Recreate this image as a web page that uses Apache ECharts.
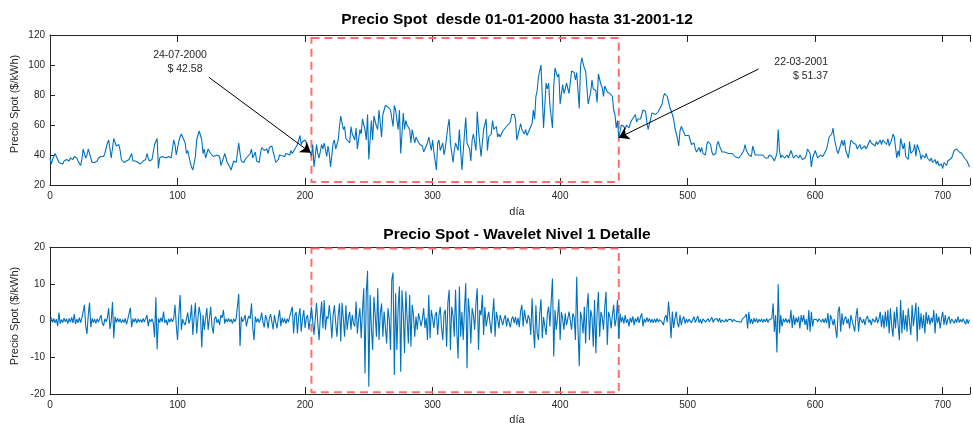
<!DOCTYPE html>
<html><head><meta charset="utf-8">
<script src="https://cdn.jsdelivr.net/npm/echarts@6/dist/echarts.min.js"></script>
<style>html,body{margin:0;padding:0;background:#fff}#c{width:973px;height:426px}</style>
</head><body><div id="c"></div>
<script>
// ---- data ----
const titulo1 = 'Precio Spot  desde 01-01-2000 hasta 31-2001-12';
const titulo2 = 'Precio Spot - Wavelet Nivel 1 Detalle';
const ejeX = 'día';
const ejeY = 'Precio Spot ($/kWh)';
const xTicks = [0, 100, 200, 300, 400, 500, 600, 700];
const zonaDias = [205, 446];
const zonaPrecio = [22, 118];
const zonaDetalle = [-19.5, 19.7];
const nota1 = ['24-07-2000', '$ 42.58'];
const nota2 = ['22-03-2001', '$ 51.37'];

// [dia, precio]
const precioSpot = [
[0,38],[1,34],[2,37],[4,41],[5,40],[7,35],[8,34],[10,34],[11,36],[13,37],
[15,36],[16,38],[18,37],[19,39],[21,38],[22,36],[24,33],[25,37],[26,44],[27,45],
[28,38],[29,40],[30,44],[31,43],[33,35],[35,35],[37,36],[38,38],[40,39],[42,39],
[43,41],[45,48],[46,50],[47,51],[48,38],[50,51],[51,51],[52,46],[54,47],[55,43],
[56,37],[58,35],[60,36],[62,37],[64,41],[65,36],[67,36],[69,35],[71,34],[73,36],
[75,37],[76,41],[77,38],[78,36],[80,37],[81,38],[82,47],[84,51],[85,31],[86,38],
[88,39],[89,38],[91,38],[93,39],[95,38],[97,50],[98,47],[99,40],[101,49],[102,52],
[103,54],[104,53],[106,48],[107,41],[108,43],[110,35],[111,32],[112,30],[114,39],[115,50],
[116,53],[117,56],[119,50],[120,41],[121,44],[122,38],[124,44],[125,43],[126,41],[128,39],
[129,38],[131,40],[133,39],[134,33],[136,38],[137,41],[139,35],[141,32],[142,30],[144,36],
[145,37],[146,35],[148,48],[149,41],[150,36],[152,35],[153,37],[154,36],[157,41],[158,44],
[159,38],[161,42],[162,36],[164,35],[165,41],[166,45],[167,46],[168,43],[170,44],[171,41],
[172,45],[174,46],[175,42],[176,39],[177,35],[179,37],[180,40],
[181,40],[184,39],[185,41],[188,40],[189,43],[190,41],[192,44],[193,43],[194,47],[196,53],
[197,47],[198,49],[200,50],[201,48],[202,44],[204,42],[205,39],[206,47],[207,32],[209,47],
[210,41],[211,38],[213,47],[214,44],[215,48],[217,39],[218,46],[219,41],[220,32],[222,48],
[223,50],[224,44],[226,50],[227,59],[228,66],[230,57],[231,59],[232,51],[233,52],[235,48],
[236,59],[237,54],[239,50],[240,58],[241,44],[243,57],[244,54],[245,64],[247,57],[248,50],
[249,67],[250,37],[252,63],[253,50],[254,66],[256,59],[257,57],[258,70],[260,52],[261,67],
[262,70],[263,73],[265,72],[266,73],[267,70],[269,59],[270,73],[271,70],[273,57],[274,70],
[275,41],[277,68],[278,57],[279,63],[280,60],[282,57],[283,48],[284,57],[286,48],[287,52],
[288,50],[290,47],[291,48],[292,46],[293,42],[295,46],[296,48],[297,52],[299,43],[300,50],
[301,42],[303,30],[304,48],[305,50],[306,43],[308,48],[309,40],[310,45],[312,59],[313,64],
[314,48],[316,35],[317,43],[318,48],[320,43],[321,57],[322,43],[323,30],[325,54],[326,65],
[327,48],[329,44],[330,36],[331,50],[332,54],[334,43],[335,69],[336,57],[338,39],[339,48],
[340,57],[342,64],[343,43],[344,52],[346,54],[347,63],[348,57],[350,59],[351,52],[352,54],
[353,52],[355,56],[356,57],[357,58],[359,60],[360,59],[361,62],[362,67],[364,67],
[365,64],[366,50],[368,57],[369,61],[370,57],[372,54],[373,57],[374,53],[376,57],[377,58],
[378,61],[379,70],[380,64],[381,79],[382,83],[383,92],[385,100],[386,79],[387,58],[389,88],
[390,84],[391,88],[392,73],[394,58],[395,86],[396,98],[398,92],[399,94],[400,74],[402,87],
[403,81],[404,84],[405,88],[407,81],[408,80],[409,96],[411,95],[412,90],[413,95],[415,71],
[416,99],[417,105],[418,101],[419,98],[420,96],[421,85],[422,74],[424,82],[425,90],[426,84],
[428,83],[429,75],[430,94],[432,87],[433,85],[434,79],[435,86],[437,82],[438,82],[439,81],
[441,79],[442,70],[443,67],[444,58],[445,63],[446,51.4],[448,60],[450,59],[451,57],[452,60],
[454,58],[455,61],[456,63],[457,63],[459,67],[460,62],[461,64],[463,64],[464,67],[465,70],
[467,69],[468,62],[469,57],[471,64],[472,68],[475,67],[477,69],[480,74],[481,79],[482,81],
[484,79],[485,78],[486,72],[488,67],[489,64],[490,58],[492,51],[493,46],[494,56],[495,59],
[497,55],[498,53],[499,52],[501,53],[502,50],[503,47],[505,48],[506,44],[507,42],[509,45],
[510,42],[511,45],[512,41],[514,40],[515,47],[516,49],[518,47],[519,42],[520,40],[522,41],
[523,47],[524,49],[525,46],[527,42],[529,42],[532,41],[535,41],[537,39],[540,38],[542,40],
[544,43],[545,47],[546,43],[548,40],
[550,39],[551,46],[553,40],[554,41],[555,40],[557,40],[558,39],[559,40],[561,38],[562,39],
[563,38],[564,40],[566,39],[567,38],[568,36],[570,41],[571,57],[572,43],[573,38],[574,40],
[575,39],[576,38],[578,40],[579,38],[580,39],[581,43],[583,38],[584,39],[585,40],[587,38],
[588,40],[589,39],[590,37],[592,38],[593,40],[594,44],[596,41],[597,32],[598,38],[600,43],
[601,44],[602,38],[604,40],[605,39],[606,39],[607,40],[609,44],[610,48],[611,52],[613,54],
[614,58],[615,51],[617,43],[618,41],[619,44],[621,50],[622,46],[623,50],[624,43],[626,38],
[627,44],[628,50],[630,48],[631,49],[632,47],[633,44],[635,47],[636,44],[637,43],[639,46],
[640,44],[641,46],[643,50],[644,48],[645,49],[647,46],[648,49],[649,47],[651,50],[652,47],
[653,50],[654,51],[656,47],[657,51],[658,46],[660,50],[661,54],[662,52],[664,38],[665,43],
[666,39],[667,51],[669,44],[670,48],[671,39],[673,37],[674,49],[675,41],[677,43],[678,47],
[679,39],[680,47],[682,42],[683,37],[684,40],[686,38],[687,41],[688,38],[690,36],[691,38],
[692,35],[694,37],[695,34],[696,36],[697,33],[699,34],[700,31],[701,35],[703,33],[704,36],
[705,35],[707,38],[708,39],[709,43],[711,44],[712,43],[713,42],[715,41],[716,40],[717,38],
[719,36],[720,34],[721,32]
];

// detalle wavelet nivel 1, un valor por día desde el día 0
const detalle = [
0,0.8,-0.5,0.6,-0.6,0.4,-1.5,2.2,-0.8,0.3,
-0.5,0.7,-0.3,0.5,-0.8,0.6,-0.4,0.9,-0.6,1.8,
-0.9,0.4,-0.6,0.8,-0.5,0.7,1.2,4.3,-1.5,-3.6,
1.5,4.9,-1.8,0.6,-0.5,0.4,-0.7,0.5,-0.4,0.6,
1.5,-0.6,-1.4,0.5,-0.3,0.8,3.4,-2.3,0,5.1,
-4.8,1.1,-0.5,0.7,-0.4,0.5,-0.6,0.3,-0.5,0.6,
-1,0.4,0.9,3.5,-1.8,0.5,-0.4,0.6,-0.7,0.5,
-0.4,0.3,-0.5,0.6,-0.4,0.5,1.5,-1.5,0.4,-0.3,
0.5,-0.6,-4.5,6.4,-7.8,0.6,-0.5,0.8,-0.4,2.5,
-0.6,0.3,-1.2,0.5,-0.4,0.6,-0.3,0.5,4.3,-1.2,
-5.3,1.5,7,-2.5,0.4,-0.6,-1.2,0.5,2.2,-0.8,
0.5,4.3,-3.9,0.8,4.9,-3.5,0.5,3.8,1.5,-7.3,
1.5,-2.5,0.8,3.4,-2.5,0.6,3.8,-1.5,-3.5,0.5,
1.1,-0.6,0.4,-1.2,1.5,0.8,2.9,-0.8,0.5,-0.4,
0.6,-0.3,0.4,-0.8,0.5,-0.3,0.6,0.3,7.3,-6.9,
1.1,-0.3,0.4,1.5,-1.6,0.3,1.3,0.5,4.7,-2,
-5.3,1.1,-0.4,0.6,-0.5,0.3,2.2,-0.5,-1.8,1.5,
0.4,-2.1,0.6,1.8,-0.4,-2.4,1.5,-0.5,-2.1,0.6,
2.9,-1.5,0.8,-0.5,0.6,-0.8,0.5,-0.4,1.2,1.5,
3.8,-3.5,1.5,2.4,-3.5,1.2,3.4,-3,0.5,2.9,
-2,0.8,1.5,-2.5,0.3,3.8,4.3,-3.9,0.5,4.8,
-0.8,-5.3,1.2,5.2,-2.1,5.6,-2.5,1.1,0.5,4.2,
0.6,-4.8,1.5,4.2,-0.5,-4.4,1.5,4.7,-5.7,4.9,
0.5,-4.4,4.2,-2.5,0.8,2.4,-2.5,1.6,-0.8,-1.6,
5.2,-3.5,0.5,3.4,-4.8,2.5,8.8,-14.4,7.5,13.6,
-18,7,-2,-8,6.5,1.5,-4.4,8.8,-5.3,2,
4.7,-4.4,2.5,2.4,-6.2,3.4,0.5,-8,11.1,13.1,
-14.8,7.5,-8,3.5,9.3,-13.9,8.3,2,-8.9,8,
0.8,-6.2,7,-7.1,4.3,1.5,-4.4,1.1,-2.5,2,
2,-1.5,0.5,3.4,-2,0.8,-5.3,7,-4.8,2.9,
0.6,-2,1.5,2.4,-3.9,1.5,3.8,-2,-5.3,2,
2.9,-7.1,5,8.4,-8,3.8,1.5,-4.4,8.4,-3,
-10.3,9.3,-4.4,2.4,-5.3,3,10.2,-13,6.1,2,
-6.2,3.4,1.5,-2.5,4.7,8.8,-8,2.9,1.5,7,
-3.9,3.8,-1.6,0.5,2.4,2.5,-3.5,1.5,6.1,-4.4,
2.4,0.5,-2.1,1.5,1.1,-1.2,0.5,1.5,-1.6,0.8,
1.1,-1.8,0.5,1.1,-0.7,1,-1.2,0.8,-1.8,2.5,
4.3,-1.6,2.9,0.5,-0.8,1.5,0.5,-3.9,6.1,-2,
-7.5,4.2,-3.5,-5.3,2,5.8,-4.8,1,1.1,-3.9,
2,3.8,-1.6,5.2,11.5,-9.8,2.9,-2.5,1,5.8,
-5.3,2.4,0.5,-2.5,2,-1.2,0.5,2.5,2.9,-2.5,
2,1,-5.3,12,-2,-12.4,2.5,0.5,-3.5,3.8,
-6.2,3.4,7.5,-5.3,2.9,1,-7.1,5.6,-8.9,2,
7.9,-4.4,2.4,1,-2.5,3.8,7.9,-6.6,2.4,1,
-2.1,1.5,4.3,-1.6,0.5,5.6,-4.8,2,-0.5,1,
-0.8,1.5,-0.6,0.4,-1.6,0.8,-0.5,1.2,-1.2,0.6,
-0.4,1.1,-0.6,1,2,-1.6,0.5,-0.5,0.9,-0.3,
0.6,-0.5,0.4,-0.6,0.5,-0.5,0.6,-0.4,0.3,0.6,
-0.5,-1.2,0.8,1.5,-0.4,5.2,1,-4.8,2.5,-2,
0.5,2.5,-0.6,-1.8,1.5,-1.2,0.4,1.1,-0.8,0.5,
-0.5,0.4,0.8,-0.6,0.3,1.1,-0.5,0.4,1.3,-0.6,
0.4,-0.8,0.5,0.9,-0.4,-0.8,0.6,-0.3,0.3,0.9,
-0.5,0.3,-0.2,0.6,-0.3,0.7,-0.5,0.2,0.6,-0.4,
0.4,-0.3,0.3,-0.2,0.4,-0.4,0.3,0.4,-0.2,0.3,
-0.3,0.2,-0.4,0.5,0.3,1.1,1.8,-2.1,2.4,-0.8,
0.5,-0.9,0.7,-0.4,0.6,-0.6,0.4,-0.3,0.5,-0.5,
0.4,-0.3,0.6,-0.5,0.3,-0.2,0.5,4.7,-3,1.5,
-8.7,9.9,-3.4,1.5,-1.6,0.5,-0.4,0.6,-0.5,0.3,
-0.7,2.9,-2,1.5,-1.2,0.8,-0.5,1.1,-2.1,1.5,
-0.4,1.5,-1.2,0.5,-2.5,2.9,-3,2.4,-1.6,0.4,
0.3,0.3,-0.3,0.5,0.6,-0.4,0.5,-0.6,0.6,-0.7,
2.1,-2.1,1.5,0.5,-1.2,0.4,0.8,-4.8,2.5,3.8,
-3,2,-1.2,0.5,1.1,-0.8,0.5,-2.1,1.5,2,
-1.5,-3,1.2,3.4,-3,1,1.5,-0.6,0.4,-1.2,
0.6,1.3,-0.5,0.3,-1.2,0.5,0.8,-0.4,1.1,-0.7,
0.5,2.4,-1.8,1.5,-2.1,2.5,-1.6,2.9,-3.5,3.4,
-1.5,-4.4,2.5,-2.1,3.8,-1,-5.3,5.6,-3.5,2.9,
-2.5,1.5,-3,3.4,-0.5,-3.9,4.3,-1.5,1.5,4.9,
-5.7,3.8,-2.5,2,-2.1,1.5,-3.5,2.4,-0.8,1.5,
-1.2,0.8,-0.5,2.9,-3.5,2,-0.6,1.1,-2.1,0.6,
2.4,-1.2,1.5,-1.2,0.4,1.1,-0.8,0.5,1,-0.7,
0.4,-0.6,1.1,-0.5,0.3,-0.4,0.5,0.8,-1,0.4,
-0.8,0.3
];

// ---- chart ----
const FONT = '"Liberation Sans", Arial, Helvetica, sans-serif';
const AX = '#262626';
const chart = echarts.init(document.getElementById('c'), null, {renderer: 'canvas'});

function xAxisDef(grid, pos, labels) {
  return {
    type: 'value', gridIndex: grid, position: pos, min: 0, max: 721.4, interval: 100,
    axisLine: {show: true, onZero: false, lineStyle: {color: AX, width: 1}},
    axisTick: {show: true, inside: true, length: 7, lineStyle: {color: AX, width: 1}},
    axisLabel: {show: labels, color: AX, fontSize: 10, fontFamily: FONT, margin: 6,
      formatter: v => (xTicks.indexOf(v) >= 0 ? String(v) : '')},
    splitLine: {show: false}
  };
}
function yAxisDef(grid, mn, mx, iv) {
  return {
    type: 'value', gridIndex: grid, min: mn, max: mx, interval: iv,
    axisLine: {show: true, onZero: false, lineStyle: {color: AX, width: 1}},
    axisTick: {show: true, inside: true, length: 5, lineStyle: {color: AX, width: 1}},
    axisLabel: {color: AX, fontSize: 10, fontFamily: FONT, margin: 5},
    splitLine: {show: false}
  };
}
const rectStyle = {color: 'rgba(0,0,0,0)', borderColor: '#ff6e6e', borderWidth: 2, borderType: [8, 5]};

const option = {
  animation: false,
  backgroundColor: '#fff',
  grid: [
    {left: 50, top: 35, right: 1, height: 150},
    {left: 50, top: 247.3, right: 1, height: 146.7}
  ],
  xAxis: [xAxisDef(0, 'bottom', true), xAxisDef(0, 'top', false),
          xAxisDef(1, 'bottom', true), xAxisDef(1, 'top', false)],
  yAxis: [yAxisDef(0, 20, 120, 20), yAxisDef(1, -20, 20, 10)],
  series: [
    {
      type: 'line', xAxisIndex: 0, yAxisIndex: 0, data: precioSpot,
      showSymbol: false, symbol: 'none', lineStyle: {color: '#0072BD', width: 1.1},
      silent: true, z: 3,
      markArea: {silent: true, itemStyle: rectStyle,
        data: [[{coord: [zonaDias[0], zonaPrecio[1]]}, {coord: [zonaDias[1], zonaPrecio[0]]}]]},
      markLine: {silent: true, symbol: ['none', 'arrow'], symbolSize: 10,
        lineStyle: {color: '#000', width: 1, type: 'solid'}, itemStyle: {color: '#000'},
        label: {show: false},
        data: [
          [{coord: [124.6, 91.8]}, {coord: [204.5, 41.5]}],
          [{coord: [555.6, 97.3]}, {coord: [446, 51.5]}]
        ]}
    },
    {
      type: 'line', xAxisIndex: 2, yAxisIndex: 1, data: detalle.map((v, i) => [i, v]),
      showSymbol: false, symbol: 'none', lineStyle: {color: '#0072BD', width: 1.1},
      silent: true, z: 3,
      markArea: {silent: true, itemStyle: rectStyle,
        data: [[{coord: [zonaDias[0], zonaDetalle[1]]}, {coord: [zonaDias[1], zonaDetalle[0]]}]]}
    }
  ],
  graphic: [
    {type: 'text', x: 517, y: 20, style: {text: titulo1, font: 'bold 15.5px ' + FONT, fill: '#000', textAlign: 'center', textVerticalAlign: 'middle'}},
    {type: 'text', x: 517, y: 235, style: {text: titulo2, font: 'bold 15.5px ' + FONT, fill: '#000', textAlign: 'center', textVerticalAlign: 'middle'}},
    {type: 'text', x: 517, y: 212, style: {text: ejeX, font: '11px ' + FONT, fill: AX, textAlign: 'center', textVerticalAlign: 'middle'}},
    {type: 'text', x: 517, y: 420, style: {text: ejeX, font: '11px ' + FONT, fill: AX, textAlign: 'center', textVerticalAlign: 'middle'}},
    {type: 'text', x: 15, y: 104, rotation: Math.PI / 2, style: {text: ejeY, font: '11px ' + FONT, fill: AX, textAlign: 'center', textVerticalAlign: 'middle'}},
    {type: 'text', x: 15, y: 316, rotation: Math.PI / 2, style: {text: ejeY, font: '11px ' + FONT, fill: AX, textAlign: 'center', textVerticalAlign: 'middle'}},
    {type: 'text', x: 180, y: 55, style: {text: nota1[0], font: '10.5px ' + FONT, fill: AX, textAlign: 'center', textVerticalAlign: 'middle'}},
    {type: 'text', x: 185, y: 69, style: {text: nota1[1], font: '10.5px ' + FONT, fill: AX, textAlign: 'center', textVerticalAlign: 'middle'}},
    {type: 'text', x: 828, y: 62, style: {text: nota2[0], font: '10.5px ' + FONT, fill: AX, textAlign: 'right', textVerticalAlign: 'middle'}},
    {type: 'text', x: 828, y: 76, style: {text: nota2[1], font: '10.5px ' + FONT, fill: AX, textAlign: 'right', textVerticalAlign: 'middle'}}
  ]
};
chart.setOption(option);
</script>
</body></html>
